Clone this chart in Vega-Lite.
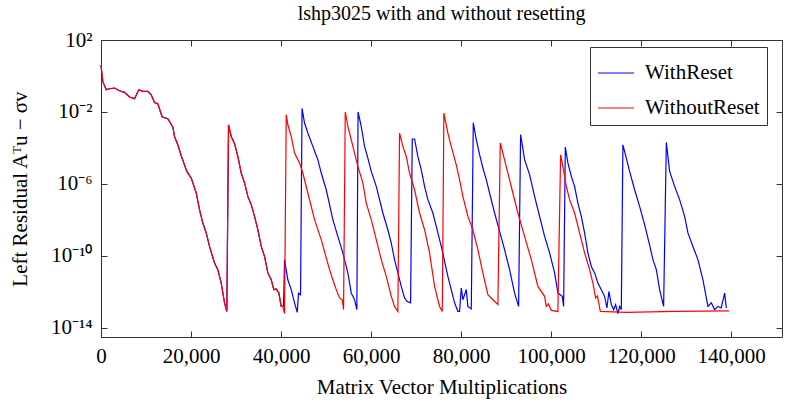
{
  "$schema": "https://vega.github.io/schema/vega-lite/v6.json",
  "width": 681,
  "height": 297,
  "autosize": {"type": "none"},
  "padding": {"left": 101, "top": 40, "right": 3, "bottom": 65},
  "background": "white",
  "config": {
    "font": "Liberation Serif",
    "view": {"stroke": "#333", "strokeWidth": 1},
    "axis": {
      "labelFont": "Liberation Serif", "labelFontSize": 21, "labelColor": "#000",
      "titleFont": "Liberation Serif", "titleFontSize": 21, "titleFontWeight": "normal", "titleColor": "#000",
      "grid": false, "domain": false, "tickColor": "#333", "tickSize": -6, "tickWidth": 1
    },
    "legend": {
      "labelFont": "Liberation Serif", "labelFontSize": 21, "labelColor": "#000"
    }
  },
  "title": {
    "text": "lshp3025 with and without resetting",
    "font": "Liberation Serif", "fontSize": 20, "fontWeight": "normal", "color": "#000",
    "anchor": "middle", "frame": "group", "baseline": "bottom", "offset": 19, "dy": 34
  },
  "data": {"values": [
    {"s":"WithReset","x":0,"y":4.0},{"s":"WithReset","x":400,"y":0.5},{"s":"WithReset","x":1156,"y":0.174},{"s":"WithReset","x":1889,"y":0.195},{"s":"WithReset","x":3000,"y":0.214},{"s":"WithReset","x":4111,"y":0.151},{"s":"WithReset","x":5222,"y":0.123},{"s":"WithReset","x":6333,"y":0.0676},{"s":"WithReset","x":7444,"y":0.055},{"s":"WithReset","x":8400,"y":0.174},{"s":"WithReset","x":9289,"y":0.141},{"s":"WithReset","x":10400,"y":0.141},{"s":"WithReset","x":11156,"y":0.0912},{"s":"WithReset","x":11889,"y":0.0339},{"s":"WithReset","x":12622,"y":0.0288},{"s":"WithReset","x":13600,"y":0.00525},{"s":"WithReset","x":14844,"y":0.00427},{"s":"WithReset","x":15956,"y":0.00148},{"s":"WithReset","x":16333,"y":4.37e-4},{"s":"WithReset","x":17067,"y":1.51e-4},{"s":"WithReset","x":17822,"y":3.72e-5},{"s":"WithReset","x":19067,"y":5.0e-6},{"s":"WithReset","x":20044,"y":2.14e-6},{"s":"WithReset","x":21156,"y":3.16e-7},{"s":"WithReset","x":21889,"y":3.72e-8},{"s":"WithReset","x":22622,"y":6.76e-9},{"s":"WithReset","x":23378,"y":1.91e-9},{"s":"WithReset","x":24111,"y":3.39e-10},{"s":"WithReset","x":25222,"y":4.07e-11},{"s":"WithReset","x":25956,"y":1.74e-11},{"s":"WithReset","x":26711,"y":3.16e-12},{"s":"WithReset","x":27444,"y":2.51e-13},{"s":"WithReset","x":27956,"y":8.3e-14},{"s":"WithReset","x":28333,"y":1.95e-3},{"s":"WithReset","x":28933,"y":4.37e-4},{"s":"WithReset","x":29667,"y":1.74e-4},{"s":"WithReset","x":30400,"y":3.39e-5},{"s":"WithReset","x":31156,"y":4.07e-6},{"s":"WithReset","x":31889,"y":1.15e-6},{"s":"WithReset","x":32622,"y":2.04e-7},{"s":"WithReset","x":33378,"y":7.08e-8},{"s":"WithReset","x":34111,"y":1.58e-8},{"s":"WithReset","x":34844,"y":2.88e-9},{"s":"WithReset","x":35600,"y":3.39e-10},{"s":"WithReset","x":36333,"y":9.55e-11},{"s":"WithReset","x":37067,"y":1.15e-11},{"s":"WithReset","x":37822,"y":4.79e-12},{"s":"WithReset","x":38400,"y":1.35e-12},{"s":"WithReset","x":38933,"y":1.48e-12},{"s":"WithReset","x":39511,"y":8.7e-13},{"s":"WithReset","x":40044,"y":1.58e-13},{"s":"WithReset","x":40400,"y":1.58e-13},
    {"s":"WithReset","x":40556,"y":1.58e-13},{"s":"WithReset","x":40778,"y":6.31e-11},{"s":"WithReset","x":41511,"y":4.79e-12},{"s":"WithReset","x":42267,"y":1.35e-12},{"s":"WithReset","x":43000,"y":2.51e-13},{"s":"WithReset","x":43600,"y":7.41e-14},{"s":"WithReset","x":43889,"y":8.7e-13},{"s":"WithReset","x":44333,"y":7.08e-13},{"s":"WithReset","x":44667,"y":1.58e-2},{"s":"WithReset","x":45222,"y":2.45e-3},{"s":"WithReset","x":45956,"y":6.76e-4},{"s":"WithReset","x":47067,"y":1.23e-4},{"s":"WithReset","x":48178,"y":2.24e-5},{"s":"WithReset","x":48933,"y":4.07e-6},{"s":"WithReset","x":50044,"y":4.79e-7},{"s":"WithReset","x":50778,"y":7.08e-8},{"s":"WithReset","x":51511,"y":1.05e-8},{"s":"WithReset","x":52622,"y":1.23e-9},{"s":"WithReset","x":53733,"y":1.48e-10},{"s":"WithReset","x":54844,"y":1.15e-11},{"s":"WithReset","x":55600,"y":8.7e-13},{"s":"WithReset","x":56333,"y":3.72e-13},{"s":"WithReset","x":56844,"y":1.05e-13},{"s":"WithReset","x":57111,"y":1.0e-2},{"s":"WithReset","x":57822,"y":1.58e-3},{"s":"WithReset","x":58556,"y":1.23e-4},{"s":"WithReset","x":59289,"y":2.75e-5},{"s":"WithReset","x":60044,"y":5.0e-6},{"s":"WithReset","x":61156,"y":7.41e-7},{"s":"WithReset","x":61889,"y":1.35e-7},{"s":"WithReset","x":62622,"y":2.45e-8},{"s":"WithReset","x":63733,"y":2.88e-9},{"s":"WithReset","x":64489,"y":5.25e-10},{"s":"WithReset","x":65222,"y":6.31e-11},{"s":"WithReset","x":65956,"y":1.15e-11},{"s":"WithReset","x":66711,"y":2.04e-12},{"s":"WithReset","x":67444,"y":4.68e-13},{"s":"WithReset","x":67956,"y":3.02e-13},{"s":"WithReset","x":68778,"y":2.51e-13},{"s":"WithReset","x":69156,"y":3.16e-4},{"s":"WithReset","x":69667,"y":3.16e-4},{"s":"WithReset","x":70400,"y":3.39e-5},{"s":"WithReset","x":71156,"y":6.17e-6},{"s":"WithReset","x":71889,"y":7.41e-7},{"s":"WithReset","x":72622,"y":1.35e-7},{"s":"WithReset","x":73733,"y":2.45e-8},{"s":"WithReset","x":74489,"y":4.47e-9},{"s":"WithReset","x":75222,"y":8.13e-10},{"s":"WithReset","x":75956,"y":1.48e-10},{"s":"WithReset","x":76333,"y":5.01e-11},{"s":"WithReset","x":77067,"y":7.41e-12},{"s":"WithReset","x":77822,"y":1.35e-12},{"s":"WithReset","x":78556,"y":2.51e-13},{"s":"WithReset","x":79289,"y":8.3e-14},{"s":"WithReset","x":79667,"y":8.3e-14},{"s":"WithReset","x":80044,"y":1.66e-12},{"s":"WithReset","x":80400,"y":3.72e-13},{"s":"WithReset","x":81156,"y":1.35e-12},{"s":"WithReset","x":81511,"y":1.58e-13},{"s":"WithReset","x":82267,"y":1.15e-13},{"s":"WithReset","x":82711,"y":2.5e-3},{"s":"WithReset","x":83378,"y":2.88e-4},{"s":"WithReset","x":84111,"y":4.27e-5},{"s":"WithReset","x":84844,"y":7.76e-6},{"s":"WithReset","x":85600,"y":1.74e-6},{"s":"WithReset","x":86333,"y":3.16e-7},{"s":"WithReset","x":87444,"y":2.45e-8},{"s":"WithReset","x":88556,"y":2.34e-9},{"s":"WithReset","x":89667,"y":2.24e-10},{"s":"WithReset","x":90778,"y":1.74e-11},{"s":"WithReset","x":91889,"y":8.7e-13},{"s":"WithReset","x":92778,"y":1.58e-13},{"s":"WithReset","x":93222,"y":5.5e-4},{"s":"WithReset","x":94111,"y":2.24e-5},{"s":"WithReset","x":95222,"y":3.31e-6},{"s":"WithReset","x":96333,"y":2.04e-7},{"s":"WithReset","x":97444,"y":1.58e-8},{"s":"WithReset","x":98556,"y":1.23e-9},{"s":"WithReset","x":99667,"y":1.48e-10},{"s":"WithReset","x":100778,"y":1.15e-11},{"s":"WithReset","x":101511,"y":8.7e-13},{"s":"WithReset","x":102489,"y":5.75e-13},{"s":"WithReset","x":102778,"y":1.58e-13},{"s":"WithReset","x":103156,"y":1.12e-4},{"s":"WithReset","x":103733,"y":1.48e-5},{"s":"WithReset","x":104489,"y":2.63e-6},{"s":"WithReset","x":105222,"y":7.41e-7},{"s":"WithReset","x":105956,"y":8.7e-8},{"s":"WithReset","x":106711,"y":1.58e-8},{"s":"WithReset","x":107444,"y":1.91e-9},{"s":"WithReset","x":108178,"y":1.48e-10},{"s":"WithReset","x":108933,"y":2.63e-11},{"s":"WithReset","x":109667,"y":1.15e-11},{"s":"WithReset","x":110400,"y":3.16e-12},{"s":"WithReset","x":111156,"y":1.35e-12},{"s":"WithReset","x":111889,"y":5.75e-13},{"s":"WithReset","x":112400,"y":1.29e-13},{"s":"WithReset","x":112844,"y":1.07e-12},{"s":"WithReset","x":113378,"y":2.0e-13},{"s":"WithReset","x":113889,"y":1.05e-13},{"s":"WithReset","x":114333,"y":2.0e-13},{"s":"WithReset","x":114844,"y":6.3e-14},{"s":"WithReset","x":115222,"y":1.58e-13},{"s":"WithReset","x":115600,"y":1.05e-13},{"s":"WithReset","x":115956,"y":1.51e-4},{"s":"WithReset","x":116711,"y":2.75e-5},{"s":"WithReset","x":117444,"y":5.0e-6},{"s":"WithReset","x":118556,"y":4.79e-7},{"s":"WithReset","x":119667,"y":5.75e-8},{"s":"WithReset","x":120778,"y":5.5e-9},{"s":"WithReset","x":121889,"y":3.98e-10},{"s":"WithReset","x":122622,"y":6.31e-11},{"s":"WithReset","x":123378,"y":1.74e-11},{"s":"WithReset","x":124111,"y":1.35e-12},{"s":"WithReset","x":125000,"y":1.58e-13},{"s":"WithReset","x":125600,"y":2.04e-4},{"s":"WithReset","x":126333,"y":5.0e-6},{"s":"WithReset","x":127444,"y":7.41e-7},{"s":"WithReset","x":128556,"y":1.35e-7},{"s":"WithReset","x":129667,"y":1.58e-8},{"s":"WithReset","x":130400,"y":1.91e-9},{"s":"WithReset","x":131511,"y":3.39e-10},{"s":"WithReset","x":132622,"y":6.31e-11},{"s":"WithReset","x":133733,"y":4.79e-12},{"s":"WithReset","x":134844,"y":1.58e-13},{"s":"WithReset","x":135600,"y":2.51e-13},{"s":"WithReset","x":136333,"y":1.05e-13},{"s":"WithReset","x":137067,"y":1.58e-13},{"s":"WithReset","x":137800,"y":1.3e-13},{"s":"WithReset","x":138556,"y":8.7e-13},{"s":"WithReset","x":138933,"y":1.29e-13},
    {"s":"WithoutReset","x":0,"y":4.0},{"s":"WithoutReset","x":400,"y":0.5},{"s":"WithoutReset","x":1156,"y":0.174},{"s":"WithoutReset","x":1889,"y":0.195},{"s":"WithoutReset","x":3000,"y":0.214},{"s":"WithoutReset","x":4111,"y":0.151},{"s":"WithoutReset","x":5222,"y":0.123},{"s":"WithoutReset","x":6333,"y":0.0676},{"s":"WithoutReset","x":7444,"y":0.055},{"s":"WithoutReset","x":8400,"y":0.174},{"s":"WithoutReset","x":9289,"y":0.141},{"s":"WithoutReset","x":10400,"y":0.141},{"s":"WithoutReset","x":11156,"y":0.0912},{"s":"WithoutReset","x":11889,"y":0.0339},{"s":"WithoutReset","x":12622,"y":0.0288},{"s":"WithoutReset","x":13600,"y":0.00525},{"s":"WithoutReset","x":14844,"y":0.00427},{"s":"WithoutReset","x":15956,"y":0.00148},{"s":"WithoutReset","x":16333,"y":4.37e-4},{"s":"WithoutReset","x":17067,"y":1.51e-4},{"s":"WithoutReset","x":17822,"y":3.72e-5},{"s":"WithoutReset","x":19067,"y":5.0e-6},{"s":"WithoutReset","x":20044,"y":2.14e-6},{"s":"WithoutReset","x":21156,"y":3.16e-7},{"s":"WithoutReset","x":21889,"y":3.72e-8},{"s":"WithoutReset","x":22622,"y":6.76e-9},{"s":"WithoutReset","x":23378,"y":1.91e-9},{"s":"WithoutReset","x":24111,"y":3.39e-10},{"s":"WithoutReset","x":25222,"y":4.07e-11},{"s":"WithoutReset","x":25956,"y":1.74e-11},{"s":"WithoutReset","x":26711,"y":3.16e-12},{"s":"WithoutReset","x":27444,"y":2.51e-13},{"s":"WithoutReset","x":27956,"y":8.3e-14},{"s":"WithoutReset","x":28333,"y":1.95e-3},{"s":"WithoutReset","x":28933,"y":4.37e-4},{"s":"WithoutReset","x":29667,"y":1.74e-4},{"s":"WithoutReset","x":30400,"y":3.39e-5},{"s":"WithoutReset","x":31156,"y":4.07e-6},{"s":"WithoutReset","x":31889,"y":1.15e-6},{"s":"WithoutReset","x":32622,"y":2.04e-7},{"s":"WithoutReset","x":33378,"y":7.08e-8},{"s":"WithoutReset","x":34111,"y":1.58e-8},{"s":"WithoutReset","x":34844,"y":2.88e-9},{"s":"WithoutReset","x":35600,"y":3.39e-10},{"s":"WithoutReset","x":36333,"y":9.55e-11},{"s":"WithoutReset","x":37067,"y":1.15e-11},{"s":"WithoutReset","x":37822,"y":4.79e-12},{"s":"WithoutReset","x":38400,"y":1.35e-12},{"s":"WithoutReset","x":38933,"y":1.48e-12},{"s":"WithoutReset","x":39511,"y":8.7e-13},{"s":"WithoutReset","x":40044,"y":1.58e-13},{"s":"WithoutReset","x":40400,"y":1.58e-13},
    {"s":"WithoutReset","x":40778,"y":6.3e-14},{"s":"WithoutReset","x":41156,"y":7.08e-3},{"s":"WithoutReset","x":41511,"y":1.95e-3},{"s":"WithoutReset","x":42267,"y":4.37e-4},{"s":"WithoutReset","x":43000,"y":5.25e-5},{"s":"WithoutReset","x":44111,"y":1.48e-5},{"s":"WithoutReset","x":44844,"y":4.07e-6},{"s":"WithoutReset","x":45956,"y":3.16e-7},{"s":"WithoutReset","x":47444,"y":1.05e-8},{"s":"WithoutReset","x":48933,"y":8.13e-10},{"s":"WithoutReset","x":50778,"y":1.74e-11},{"s":"WithoutReset","x":51511,"y":4.79e-12},{"s":"WithoutReset","x":52267,"y":1.35e-12},{"s":"WithoutReset","x":53000,"y":4.68e-13},{"s":"WithoutReset","x":53600,"y":3.72e-13},{"s":"WithoutReset","x":53889,"y":1.05e-13},{"s":"WithoutReset","x":54267,"y":1.0e-2},{"s":"WithoutReset","x":54844,"y":1.58e-3},{"s":"WithoutReset","x":55600,"y":2.88e-4},{"s":"WithoutReset","x":56333,"y":5.25e-5},{"s":"WithoutReset","x":57067,"y":9.55e-6},{"s":"WithoutReset","x":58178,"y":1.15e-6},{"s":"WithoutReset","x":58933,"y":8.7e-8},{"s":"WithoutReset","x":60044,"y":1.05e-8},{"s":"WithoutReset","x":61156,"y":8.13e-10},{"s":"WithoutReset","x":62267,"y":6.31e-11},{"s":"WithoutReset","x":63378,"y":7.41e-12},{"s":"WithoutReset","x":64489,"y":5.75e-13},{"s":"WithoutReset","x":65222,"y":1.58e-13},{"s":"WithoutReset","x":65956,"y":8.3e-14},{"s":"WithoutReset","x":66333,"y":6.76e-4},{"s":"WithoutReset","x":67067,"y":1.23e-4},{"s":"WithoutReset","x":67822,"y":3.39e-5},{"s":"WithoutReset","x":68556,"y":4.07e-6},{"s":"WithoutReset","x":69667,"y":4.79e-7},{"s":"WithoutReset","x":70778,"y":2.45e-8},{"s":"WithoutReset","x":71889,"y":2.88e-9},{"s":"WithoutReset","x":73000,"y":1.48e-10},{"s":"WithoutReset","x":74111,"y":2.04e-12},{"s":"WithoutReset","x":75222,"y":1.58e-13},{"s":"WithoutReset","x":75822,"y":8.3e-14},{"s":"WithoutReset","x":76178,"y":8.7e-3},{"s":"WithoutReset","x":77067,"y":6.76e-4},{"s":"WithoutReset","x":77822,"y":1.23e-4},{"s":"WithoutReset","x":78933,"y":1.17e-5},{"s":"WithoutReset","x":79667,"y":1.74e-6},{"s":"WithoutReset","x":80400,"y":2.04e-7},{"s":"WithoutReset","x":81511,"y":1.58e-8},{"s":"WithoutReset","x":82622,"y":2.88e-9},{"s":"WithoutReset","x":83733,"y":2.24e-10},{"s":"WithoutReset","x":84844,"y":1.15e-11},{"s":"WithoutReset","x":85956,"y":7.08e-13},{"s":"WithoutReset","x":87067,"y":3.72e-13},{"s":"WithoutReset","x":88178,"y":2.0e-13},{"s":"WithoutReset","x":88711,"y":1.91e-4},{"s":"WithoutReset","x":89289,"y":5.25e-5},{"s":"WithoutReset","x":90400,"y":4.07e-6},{"s":"WithoutReset","x":91511,"y":3.16e-7},{"s":"WithoutReset","x":92622,"y":2.45e-8},{"s":"WithoutReset","x":94111,"y":1.23e-9},{"s":"WithoutReset","x":95600,"y":6.31e-11},{"s":"WithoutReset","x":97067,"y":2.04e-12},{"s":"WithoutReset","x":98556,"y":5.75e-13},{"s":"WithoutReset","x":98933,"y":1.58e-13},{"s":"WithoutReset","x":99400,"y":2.2e-13},{"s":"WithoutReset","x":100044,"y":9.55e-14},{"s":"WithoutReset","x":101511,"y":8.3e-14},{"s":"WithoutReset","x":102111,"y":4.27e-5},{"s":"WithoutReset","x":102622,"y":9.55e-6},{"s":"WithoutReset","x":103378,"y":7.41e-7},{"s":"WithoutReset","x":104111,"y":1.35e-7},{"s":"WithoutReset","x":105222,"y":2.45e-8},{"s":"WithoutReset","x":106333,"y":1.91e-9},{"s":"WithoutReset","x":107444,"y":1.48e-10},{"s":"WithoutReset","x":108556,"y":1.74e-11},{"s":"WithoutReset","x":109289,"y":3.16e-12},{"s":"WithoutReset","x":109889,"y":4.68e-13},{"s":"WithoutReset","x":110300,"y":6.0e-13},{"s":"WithoutReset","x":110933,"y":8.3e-14},{"s":"WithoutReset","x":116711,"y":7.41e-14},{"s":"WithoutReset","x":127444,"y":8.3e-14},{"s":"WithoutReset","x":139511,"y":8.9e-14}
  ]},
  "encoding": {
    "x": {"field": "x", "type": "quantitative", "scale": {"domain": [0, 151300], "nice": false, "zero": false}},
    "y": {"field": "y", "type": "quantitative", "scale": {"type": "log", "domain": [3.162e-15, 100], "nice": false}},
    "color": {
      "field": "s", "type": "nominal",
      "scale": {"domain": ["WithReset", "WithoutReset"], "range": ["#0000ff", "#ff0000"]},
      "legend": {
        "title": null, "orient": "none", "legendX": 489, "legendY": 7, "direction": "vertical",
        "symbolType": "stroke", "symbolSize": 1296, "symbolStrokeWidth": 1.2,
        "strokeColor": "#333", "fillColor": "white", "padding": 7, "rowPadding": 6, "labelOffset": 10
      }
    }
  },
  "layer": [
    {
      "transform": [{"filter": "datum.s == 'WithReset'"}],
      "mark": {"type": "line", "strokeWidth": 1.2},
      "encoding": {
        "x": {"field": "x", "type": "quantitative",
          "axis": {"orient": "bottom", "values": [0, 20000, 40000, 60000, 80000, 100000, 120000, 140000], "format": ",d", "labelFlush": false, "labelPadding": 14, "title": "Matrix Vector Multiplications", "titlePadding": 10}},
        "y": {"field": "y", "type": "quantitative",
          "axis": {"orient": "left", "values": [100, 0.01, 1e-6, 1e-10, 1e-14], "labelPadding": 15,
            "labelExpr": "datum.value >= 10 ? '10²' : datum.value >= 1e-3 ? '10⁻²' : datum.value >= 1e-7 ? '10⁻⁶' : datum.value >= 1e-11 ? '10⁻¹⁰' : '10⁻¹⁴'",
            "title": "Left Residual Aᵀu − σv", "titlePadding": 20}}
      }
    },
    {
      "transform": [{"filter": "datum.s == 'WithoutReset'"}],
      "mark": {"type": "line", "strokeWidth": 1.2},
      "encoding": {
        "x": {"field": "x", "type": "quantitative",
          "axis": {"orient": "top", "values": [0, 20000, 40000, 60000, 80000, 100000, 120000, 140000], "labels": false, "title": null}},
        "y": {"field": "y", "type": "quantitative",
          "axis": {"orient": "right", "values": [100, 0.01, 1e-6, 1e-10, 1e-14], "labels": false, "title": null}}
      }
    }
  ],
  "resolve": {"axis": {"x": "independent", "y": "independent"}}
}
